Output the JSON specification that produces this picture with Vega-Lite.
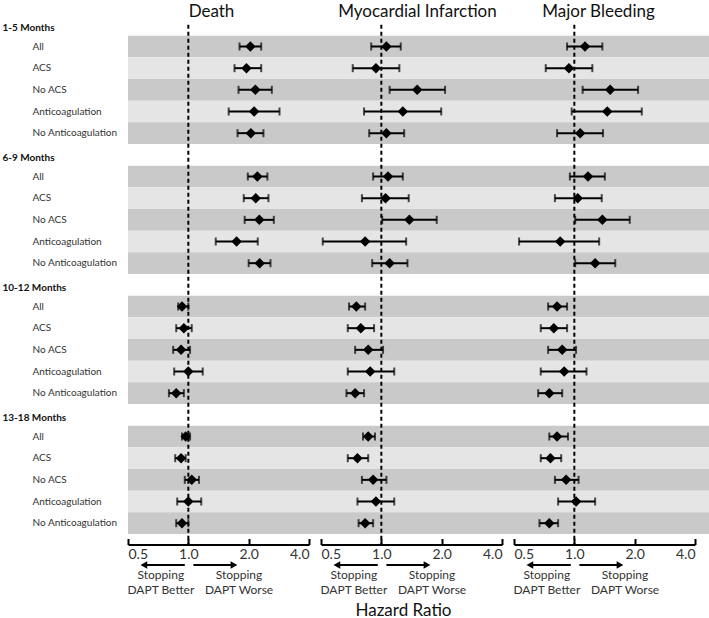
{
  "$schema": "https://vega.github.io/schema/vega-lite/v6.json",
  "background": "white",
  "padding": {"left": 2, "top": 3, "right": 2, "bottom": 2},
  "config": {"view": {"stroke": null}, "font": "Lato"},
  "datasets": {
    "est": [
      {"outcome": "Death", "period": "1-5 Months", "subgroup": "All", "hr": 2.04, "lo": 1.80, "hi": 2.31},
      {"outcome": "Death", "period": "1-5 Months", "subgroup": "ACS", "hr": 1.95, "lo": 1.70, "hi": 2.31},
      {"outcome": "Death", "period": "1-5 Months", "subgroup": "No ACS", "hr": 2.16, "lo": 1.78, "hi": 2.61},
      {"outcome": "Death", "period": "1-5 Months", "subgroup": "Anticoagulation", "hr": 2.13, "lo": 1.59, "hi": 2.85},
      {"outcome": "Death", "period": "1-5 Months", "subgroup": "No Anticoagulation", "hr": 2.05, "lo": 1.76, "hi": 2.37},
      {"outcome": "Death", "period": "6-9 Months", "subgroup": "All", "hr": 2.21, "lo": 1.98, "hi": 2.48},
      {"outcome": "Death", "period": "6-9 Months", "subgroup": "ACS", "hr": 2.17, "lo": 1.89, "hi": 2.51},
      {"outcome": "Death", "period": "6-9 Months", "subgroup": "No ACS", "hr": 2.26, "lo": 1.91, "hi": 2.67},
      {"outcome": "Death", "period": "6-9 Months", "subgroup": "Anticoagulation", "hr": 1.74, "lo": 1.37, "hi": 2.22},
      {"outcome": "Death", "period": "6-9 Months", "subgroup": "No Anticoagulation", "hr": 2.27, "lo": 2.00, "hi": 2.57},
      {"outcome": "Death", "period": "10-12 Months", "subgroup": "All", "hr": 0.93, "lo": 0.89, "hi": 1.00},
      {"outcome": "Death", "period": "10-12 Months", "subgroup": "ACS", "hr": 0.95, "lo": 0.87, "hi": 1.04},
      {"outcome": "Death", "period": "10-12 Months", "subgroup": "No ACS", "hr": 0.92, "lo": 0.84, "hi": 1.02},
      {"outcome": "Death", "period": "10-12 Months", "subgroup": "Anticoagulation", "hr": 1.00, "lo": 0.85, "hi": 1.18},
      {"outcome": "Death", "period": "10-12 Months", "subgroup": "No Anticoagulation", "hr": 0.87, "lo": 0.80, "hi": 0.95},
      {"outcome": "Death", "period": "13-18 Months", "subgroup": "All", "hr": 0.97, "lo": 0.93, "hi": 1.02},
      {"outcome": "Death", "period": "13-18 Months", "subgroup": "ACS", "hr": 0.92, "lo": 0.86, "hi": 0.97},
      {"outcome": "Death", "period": "13-18 Months", "subgroup": "No ACS", "hr": 1.04, "lo": 0.96, "hi": 1.13},
      {"outcome": "Death", "period": "13-18 Months", "subgroup": "Anticoagulation", "hr": 1.00, "lo": 0.88, "hi": 1.16},
      {"outcome": "Death", "period": "13-18 Months", "subgroup": "No Anticoagulation", "hr": 0.93, "lo": 0.87, "hi": 1.00},
      {"outcome": "MI", "period": "1-5 Months", "subgroup": "All", "hr": 1.06, "lo": 0.89, "hi": 1.25},
      {"outcome": "MI", "period": "1-5 Months", "subgroup": "ACS", "hr": 0.94, "lo": 0.72, "hi": 1.23},
      {"outcome": "MI", "period": "1-5 Months", "subgroup": "No ACS", "hr": 1.51, "lo": 1.10, "hi": 2.08},
      {"outcome": "MI", "period": "1-5 Months", "subgroup": "Anticoagulation", "hr": 1.28, "lo": 0.82, "hi": 1.99},
      {"outcome": "MI", "period": "1-5 Months", "subgroup": "No Anticoagulation", "hr": 1.06, "lo": 0.87, "hi": 1.30},
      {"outcome": "MI", "period": "6-9 Months", "subgroup": "All", "hr": 1.08, "lo": 0.91, "hi": 1.28},
      {"outcome": "MI", "period": "6-9 Months", "subgroup": "ACS", "hr": 1.05, "lo": 0.80, "hi": 1.37},
      {"outcome": "MI", "period": "6-9 Months", "subgroup": "No ACS", "hr": 1.38, "lo": 1.01, "hi": 1.89},
      {"outcome": "MI", "period": "6-9 Months", "subgroup": "Anticoagulation", "hr": 0.83, "lo": 0.51, "hi": 1.33},
      {"outcome": "MI", "period": "6-9 Months", "subgroup": "No Anticoagulation", "hr": 1.10, "lo": 0.90, "hi": 1.35},
      {"outcome": "MI", "period": "10-12 Months", "subgroup": "All", "hr": 0.75, "lo": 0.69, "hi": 0.83},
      {"outcome": "MI", "period": "10-12 Months", "subgroup": "ACS", "hr": 0.79, "lo": 0.68, "hi": 0.92},
      {"outcome": "MI", "period": "10-12 Months", "subgroup": "No ACS", "hr": 0.86, "lo": 0.74, "hi": 1.02},
      {"outcome": "MI", "period": "10-12 Months", "subgroup": "Anticoagulation", "hr": 0.88, "lo": 0.68, "hi": 1.16},
      {"outcome": "MI", "period": "10-12 Months", "subgroup": "No Anticoagulation", "hr": 0.74, "lo": 0.67, "hi": 0.82},
      {"outcome": "MI", "period": "13-18 Months", "subgroup": "All", "hr": 0.86, "lo": 0.81, "hi": 0.93},
      {"outcome": "MI", "period": "13-18 Months", "subgroup": "ACS", "hr": 0.76, "lo": 0.68, "hi": 0.86},
      {"outcome": "MI", "period": "13-18 Months", "subgroup": "No ACS", "hr": 0.91, "lo": 0.80, "hi": 1.06},
      {"outcome": "MI", "period": "13-18 Months", "subgroup": "Anticoagulation", "hr": 0.94, "lo": 0.76, "hi": 1.16},
      {"outcome": "MI", "period": "13-18 Months", "subgroup": "No Anticoagulation", "hr": 0.83, "lo": 0.77, "hi": 0.91},
      {"outcome": "MB", "period": "1-5 Months", "subgroup": "All", "hr": 1.13, "lo": 0.92, "hi": 1.38},
      {"outcome": "MB", "period": "1-5 Months", "subgroup": "ACS", "hr": 0.94, "lo": 0.72, "hi": 1.23},
      {"outcome": "MB", "period": "1-5 Months", "subgroup": "No ACS", "hr": 1.51, "lo": 1.10, "hi": 2.08},
      {"outcome": "MB", "period": "1-5 Months", "subgroup": "Anticoagulation", "hr": 1.46, "lo": 0.97, "hi": 2.17},
      {"outcome": "MB", "period": "1-5 Months", "subgroup": "No Anticoagulation", "hr": 1.07, "lo": 0.82, "hi": 1.39},
      {"outcome": "MB", "period": "6-9 Months", "subgroup": "All", "hr": 1.17, "lo": 0.95, "hi": 1.42},
      {"outcome": "MB", "period": "6-9 Months", "subgroup": "ACS", "hr": 1.04, "lo": 0.80, "hi": 1.37},
      {"outcome": "MB", "period": "6-9 Months", "subgroup": "No ACS", "hr": 1.38, "lo": 1.01, "hi": 1.89},
      {"outcome": "MB", "period": "6-9 Months", "subgroup": "Anticoagulation", "hr": 0.85, "lo": 0.53, "hi": 1.33},
      {"outcome": "MB", "period": "6-9 Months", "subgroup": "No Anticoagulation", "hr": 1.27, "lo": 1.01, "hi": 1.60},
      {"outcome": "MB", "period": "10-12 Months", "subgroup": "All", "hr": 0.82, "lo": 0.74, "hi": 0.92},
      {"outcome": "MB", "period": "10-12 Months", "subgroup": "ACS", "hr": 0.79, "lo": 0.68, "hi": 0.92},
      {"outcome": "MB", "period": "10-12 Months", "subgroup": "No ACS", "hr": 0.87, "lo": 0.74, "hi": 1.02},
      {"outcome": "MB", "period": "10-12 Months", "subgroup": "Anticoagulation", "hr": 0.89, "lo": 0.68, "hi": 1.15},
      {"outcome": "MB", "period": "10-12 Months", "subgroup": "No Anticoagulation", "hr": 0.75, "lo": 0.66, "hi": 0.87},
      {"outcome": "MB", "period": "13-18 Months", "subgroup": "All", "hr": 0.82, "lo": 0.75, "hi": 0.93},
      {"outcome": "MB", "period": "13-18 Months", "subgroup": "ACS", "hr": 0.76, "lo": 0.68, "hi": 0.86},
      {"outcome": "MB", "period": "13-18 Months", "subgroup": "No ACS", "hr": 0.91, "lo": 0.80, "hi": 1.05},
      {"outcome": "MB", "period": "13-18 Months", "subgroup": "Anticoagulation", "hr": 1.02, "lo": 0.83, "hi": 1.27},
      {"outcome": "MB", "period": "13-18 Months", "subgroup": "No Anticoagulation", "hr": 0.75, "lo": 0.67, "hi": 0.83}
    ],
    "arrows": [
      {"side": "better", "from": 0.96, "to": 0.60},
      {"side": "worse", "from": 1.06, "to": 1.69}
    ],
    "ref": [{"ref": 1}]
  },
  "spacing": -3,
  "hconcat": [
    {
      "bounds": "flush",
      "spacing": 0,
      "vconcat": [
        {
          "width": 193, "height": 530.5,
          "title": {"text": "Death", "frame": "group", "anchor": "middle", "fontSize": 17, "fontWeight": "normal", "font": "Lato", "color": "#111", "baseline": "alphabetic", "offset": -20, "dx": -13},
          "encoding": {"y": {"field": "row", "type": "nominal", "scale": {"type": "band", "paddingInner": 0, "paddingOuter": 0.242, "align": 0, "domain": ["1-5 Months","1-5 Months|All","1-5 Months|ACS","1-5 Months|No ACS","1-5 Months|Anticoagulation","1-5 Months|No Anticoagulation","6-9 Months","6-9 Months|All","6-9 Months|ACS","6-9 Months|No ACS","6-9 Months|Anticoagulation","6-9 Months|No Anticoagulation","10-12 Months","10-12 Months|All","10-12 Months|ACS","10-12 Months|No ACS","10-12 Months|Anticoagulation","10-12 Months|No Anticoagulation","13-18 Months","13-18 Months|All","13-18 Months|ACS","13-18 Months|No ACS","13-18 Months|Anticoagulation","13-18 Months|No Anticoagulation"]},
            "axis": {"title": null, "ticks": false, "domain": false, "labelAlign": "left", "labelFont": "Lato", "labelFontSize": 10, "labelLimit": 0, "labelColor": {"condition": {"test": "indexof(datum.value, '|') < 0", "value": "#111"}, "value": "#333"},
              "labelExpr": "indexof(datum.value, '|') < 0 ? datum.value : split(datum.value, '|')[1]",
              "labelPadding": {"condition": {"test": "indexof(datum.value, '|') < 0", "value": 126}, "value": 96},
              "labelFontWeight": {"condition": {"test": "indexof(datum.value, '|') < 0", "value": "bold"}, "value": "normal"},
              "labelOffset": {"condition": {"test": "indexof(datum.value, '|') < 0", "value": 3}, "value": 0}}}},
          "layer": [
            {"data": {"name": "est"}, "transform": [{"filter": "datum.outcome == 'Death'"}, {"calculate": "datum.period + '|' + datum.subgroup", "as": "row"}],
             "mark": {"type": "rect"}, "encoding": {"color": {"field": "subgroup", "type": "nominal", "legend": null, "scale": {"domain": ["All","ACS","No ACS","Anticoagulation","No Anticoagulation"], "range": ["#c9c9c9","#e5e5e5","#c9c9c9","#e5e5e5","#c9c9c9"]}}}},
            {"data": {"name": "ref"}, "mark": {"type": "rule", "strokeDash": [4, 3], "strokeWidth": 2, "color": "black"},
             "encoding": {"x": {"field": "ref", "type": "quantitative", "scale": {"type": "log", "domain": [0.5, 4], "range": [0, 181], "nice": false}, "axis": {"values": [0.5, 1, 2, 4], "format": ".1f", "labelFlush": true, "grid": false, "title": null, "tickSize": -6, "tickWidth": 2, "tickColor": "black", "domainColor": "black", "domainWidth": 2, "labelFontSize": 14, "labelColor": "#333", "labelFont": "Lato", "labelPadding": 9}}, "y": {"datum": "1-5 Months"}, "y2": {"value": "height"}}},
            {"data": {"name": "est"}, "transform": [{"filter": "datum.outcome == 'Death'"}, {"calculate": "datum.period + '|' + datum.subgroup", "as": "row"}],
             "layer": [
               {"mark": {"type": "rule", "strokeWidth": 2, "color": "black"}, "encoding": {"x": {"field": "lo", "type": "quantitative"}, "x2": {"field": "hi"}}},
               {"mark": {"type": "tick", "thickness": 2, "size": 8, "color": "black"}, "encoding": {"x": {"field": "lo", "type": "quantitative"}}},
               {"mark": {"type": "tick", "thickness": 2, "size": 8, "color": "black"}, "encoding": {"x": {"field": "hi", "type": "quantitative"}}},
               {"mark": {"type": "point", "shape": "diamond", "filled": true, "size": 110, "color": "black", "opacity": 1}, "encoding": {"x": {"field": "hr", "type": "quantitative"}}}
             ]}
          ]
        },
        {
          "width": 193, "height": 40,
          "data": {"name": "arrows"},
          "layer": [
            {"mark": {"type": "rule", "strokeWidth": 2, "color": "black"}, "encoding": {"x": {"field": "from", "type": "quantitative", "scale": {"type": "log", "domain": [0.5, 4], "range": [0, 181], "nice": false}, "axis": {"orient": "bottom", "offset": -16, "values": [0.725, 1.78], "labelExpr": "datum.value < 1 ? ['Stopping', 'DAPT Better'] : ['Stopping', 'DAPT Worse']", "domain": false, "ticks": false, "grid": false, "title": null, "labelPadding": 0, "labelFontSize": 12, "labelLineHeight": 15, "labelColor": "#333", "labelFont": "Lato", "labelFlush": false, "labelOverlap": false}}, "x2": {"field": "to"}}},
            {"mark": {"type": "point", "filled": true, "size": 60, "color": "black", "opacity": 1}, "encoding": {"x": {"field": "to", "type": "quantitative"}, "shape": {"field": "side", "type": "nominal", "legend": null, "scale": {"domain": ["better", "worse"], "range": ["triangle-left", "triangle-right"]}}}}
          ]
        }
      ]
    },
    {
      "bounds": "flush",
      "spacing": 0,
      "vconcat": [
        {
          "width": 193, "height": 530.5,
          "title": {"text": "Myocardial Infarction", "frame": "group", "anchor": "middle", "fontSize": 17, "fontWeight": "normal", "font": "Lato", "color": "#111", "baseline": "alphabetic", "offset": -20},
          "encoding": {"y": {"field": "row", "type": "nominal", "axis": null, "scale": {"type": "band", "paddingInner": 0, "paddingOuter": 0.242, "align": 0, "domain": ["1-5 Months","1-5 Months|All","1-5 Months|ACS","1-5 Months|No ACS","1-5 Months|Anticoagulation","1-5 Months|No Anticoagulation","6-9 Months","6-9 Months|All","6-9 Months|ACS","6-9 Months|No ACS","6-9 Months|Anticoagulation","6-9 Months|No Anticoagulation","10-12 Months","10-12 Months|All","10-12 Months|ACS","10-12 Months|No ACS","10-12 Months|Anticoagulation","10-12 Months|No Anticoagulation","13-18 Months","13-18 Months|All","13-18 Months|ACS","13-18 Months|No ACS","13-18 Months|Anticoagulation","13-18 Months|No Anticoagulation"]}}},
          "layer": [
            {"data": {"name": "est"}, "transform": [{"filter": "datum.outcome == 'MI'"}, {"calculate": "datum.period + '|' + datum.subgroup", "as": "row"}],
             "mark": {"type": "rect"}, "encoding": {"color": {"field": "subgroup", "type": "nominal", "legend": null}}},
            {"data": {"name": "ref"}, "mark": {"type": "rule", "strokeDash": [4, 3], "strokeWidth": 2, "color": "black"},
             "encoding": {"x": {"field": "ref", "type": "quantitative", "scale": {"type": "log", "domain": [0.5, 4], "range": [0, 181], "nice": false}, "axis": {"values": [0.5, 1, 2, 4], "format": ".1f", "labelFlush": true, "grid": false, "title": null, "tickSize": -6, "tickWidth": 2, "tickColor": "black", "domainColor": "black", "domainWidth": 2, "labelFontSize": 14, "labelColor": "#333", "labelFont": "Lato", "labelPadding": 9}}, "y": {"datum": "1-5 Months"}, "y2": {"value": "height"}}},
            {"data": {"name": "est"}, "transform": [{"filter": "datum.outcome == 'MI'"}, {"calculate": "datum.period + '|' + datum.subgroup", "as": "row"}],
             "layer": [
               {"mark": {"type": "rule", "strokeWidth": 2, "color": "black"}, "encoding": {"x": {"field": "lo", "type": "quantitative"}, "x2": {"field": "hi"}}},
               {"mark": {"type": "tick", "thickness": 2, "size": 8, "color": "black"}, "encoding": {"x": {"field": "lo", "type": "quantitative"}}},
               {"mark": {"type": "tick", "thickness": 2, "size": 8, "color": "black"}, "encoding": {"x": {"field": "hi", "type": "quantitative"}}},
               {"mark": {"type": "point", "shape": "diamond", "filled": true, "size": 110, "color": "black", "opacity": 1}, "encoding": {"x": {"field": "hr", "type": "quantitative"}}}
             ]}
          ]
        },
        {
          "width": 193, "height": 40,
          "data": {"name": "arrows"},
          "layer": [
            {"mark": {"type": "rule", "strokeWidth": 2, "color": "black"}, "encoding": {"x": {"field": "from", "type": "quantitative", "scale": {"type": "log", "domain": [0.5, 4], "range": [0, 181], "nice": false}, "axis": {"orient": "bottom", "offset": -16, "values": [0.725, 1.78], "labelExpr": "datum.value < 1 ? ['Stopping', 'DAPT Better'] : ['Stopping', 'DAPT Worse']", "domain": false, "ticks": false, "grid": false, "title": "Hazard Ratio", "titleFontSize": 17, "titleFontWeight": "normal", "titleColor": "#111", "titleFont": "Lato", "titlePadding": 7, "titleX": 82, "labelPadding": 0, "labelFontSize": 12, "labelLineHeight": 15, "labelColor": "#333", "labelFont": "Lato", "labelFlush": false, "labelOverlap": false}}, "x2": {"field": "to"}}},
            {"mark": {"type": "point", "filled": true, "size": 60, "color": "black", "opacity": 1}, "encoding": {"x": {"field": "to", "type": "quantitative"}, "shape": {"field": "side", "type": "nominal", "legend": null}}}
          ]
        }
      ]
    },
    {
      "bounds": "flush",
      "spacing": 0,
      "vconcat": [
        {
          "width": 197, "height": 530.5,
          "title": {"text": "Major Bleeding", "frame": "group", "anchor": "middle", "fontSize": 17, "fontWeight": "normal", "font": "Lato", "color": "#111", "baseline": "alphabetic", "offset": -20, "dx": -14},
          "encoding": {"y": {"field": "row", "type": "nominal", "axis": null, "scale": {"type": "band", "paddingInner": 0, "paddingOuter": 0.242, "align": 0, "domain": ["1-5 Months","1-5 Months|All","1-5 Months|ACS","1-5 Months|No ACS","1-5 Months|Anticoagulation","1-5 Months|No Anticoagulation","6-9 Months","6-9 Months|All","6-9 Months|ACS","6-9 Months|No ACS","6-9 Months|Anticoagulation","6-9 Months|No Anticoagulation","10-12 Months","10-12 Months|All","10-12 Months|ACS","10-12 Months|No ACS","10-12 Months|Anticoagulation","10-12 Months|No Anticoagulation","13-18 Months","13-18 Months|All","13-18 Months|ACS","13-18 Months|No ACS","13-18 Months|Anticoagulation","13-18 Months|No Anticoagulation"]}}},
          "layer": [
            {"data": {"name": "est"}, "transform": [{"filter": "datum.outcome == 'MB'"}, {"calculate": "datum.period + '|' + datum.subgroup", "as": "row"}],
             "mark": {"type": "rect"}, "encoding": {"color": {"field": "subgroup", "type": "nominal", "legend": null}}},
            {"data": {"name": "ref"}, "mark": {"type": "rule", "strokeDash": [4, 3], "strokeWidth": 2, "color": "black"},
             "encoding": {"x": {"field": "ref", "type": "quantitative", "scale": {"type": "log", "domain": [0.5, 4], "range": [0, 181], "nice": false}, "axis": {"values": [0.5, 1, 2, 4], "format": ".1f", "labelFlush": true, "grid": false, "title": null, "tickSize": -6, "tickWidth": 2, "tickColor": "black", "domainColor": "black", "domainWidth": 2, "labelFontSize": 14, "labelColor": "#333", "labelFont": "Lato", "labelPadding": 9}}, "y": {"datum": "1-5 Months"}, "y2": {"value": "height"}}},
            {"data": {"name": "est"}, "transform": [{"filter": "datum.outcome == 'MB'"}, {"calculate": "datum.period + '|' + datum.subgroup", "as": "row"}],
             "layer": [
               {"mark": {"type": "rule", "strokeWidth": 2, "color": "black"}, "encoding": {"x": {"field": "lo", "type": "quantitative"}, "x2": {"field": "hi"}}},
               {"mark": {"type": "tick", "thickness": 2, "size": 8, "color": "black"}, "encoding": {"x": {"field": "lo", "type": "quantitative"}}},
               {"mark": {"type": "tick", "thickness": 2, "size": 8, "color": "black"}, "encoding": {"x": {"field": "hi", "type": "quantitative"}}},
               {"mark": {"type": "point", "shape": "diamond", "filled": true, "size": 110, "color": "black", "opacity": 1}, "encoding": {"x": {"field": "hr", "type": "quantitative"}}}
             ]}
          ]
        },
        {
          "width": 197, "height": 40,
          "data": {"name": "arrows"},
          "layer": [
            {"mark": {"type": "rule", "strokeWidth": 2, "color": "black"}, "encoding": {"x": {"field": "from", "type": "quantitative", "scale": {"type": "log", "domain": [0.5, 4], "range": [0, 181], "nice": false}, "axis": {"orient": "bottom", "offset": -16, "values": [0.725, 1.78], "labelExpr": "datum.value < 1 ? ['Stopping', 'DAPT Better'] : ['Stopping', 'DAPT Worse']", "domain": false, "ticks": false, "grid": false, "title": null, "labelPadding": 0, "labelFontSize": 12, "labelLineHeight": 15, "labelColor": "#333", "labelFont": "Lato", "labelFlush": false, "labelOverlap": false}}, "x2": {"field": "to"}}},
            {"mark": {"type": "point", "filled": true, "size": 60, "color": "black", "opacity": 1}, "encoding": {"x": {"field": "to", "type": "quantitative"}, "shape": {"field": "side", "type": "nominal", "legend": null}}}
          ]
        }
      ]
    }
  ]
}
